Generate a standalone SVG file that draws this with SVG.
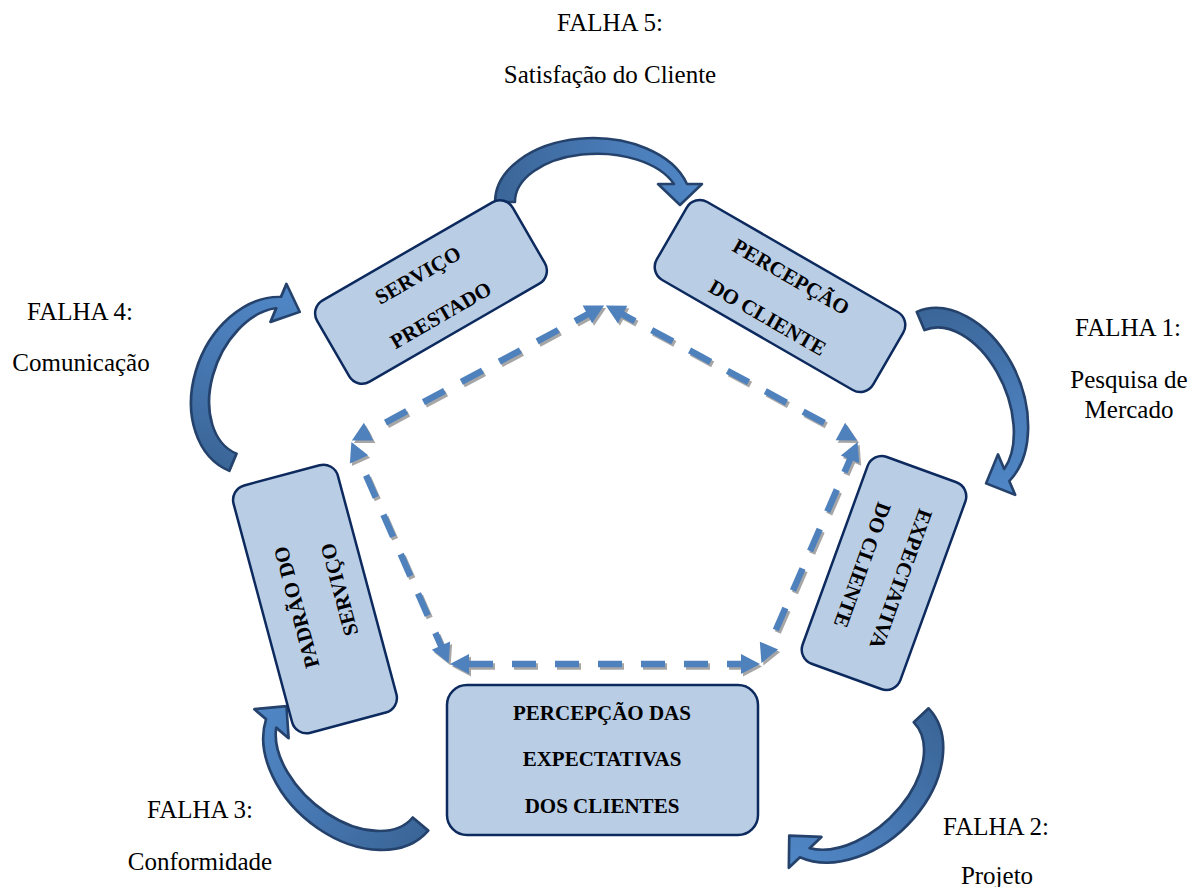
<svg xmlns="http://www.w3.org/2000/svg" width="1200" height="887" viewBox="0 0 1200 887">
<style>
.lbl{font-family:"Liberation Serif","Times New Roman",serif;font-size:25px;fill:#000;text-anchor:middle}
.bt{font-family:"Liberation Serif","Times New Roman",serif;font-size:21px;font-weight:bold;fill:#000;text-anchor:middle}
.box{fill:#b9cde5;stroke:#0d2a5e;stroke-width:2.5}
.carrow{fill:url(#ag);stroke:#24426b;stroke-width:2.5;stroke-linejoin:round}
.dash{fill:none;stroke:#4f81bd;stroke-width:6.5;stroke-dasharray:24 19;marker-start:url(#mh);marker-end:url(#mh)}
.dashs{fill:none;stroke:#a6a6a6;stroke-width:6.5;stroke-dasharray:24 19;marker-start:url(#mhs);marker-end:url(#mhs)}
</style>
<defs>
<linearGradient id="ag" x1="0" y1="0" x2="1" y2="0">
<stop offset="0" stop-color="#3a6597"/>
<stop offset="0.6" stop-color="#4a7cb8"/>
<stop offset="1" stop-color="#5087c6"/>
</linearGradient>
<marker id="mh" markerUnits="userSpaceOnUse" markerWidth="30" markerHeight="30" refX="10" refY="0" viewBox="0 -15 30 30" orient="auto-start-reverse" overflow="visible">
<path d="M0,-10 L19,0 L0,10 Z" fill="#4f81bd"/>
</marker>
<marker id="mhs" markerUnits="userSpaceOnUse" markerWidth="30" markerHeight="30" refX="10" refY="0" viewBox="0 -15 30 30" orient="auto-start-reverse" overflow="visible">
<path d="M0,-10 L19,0 L0,10 Z" fill="#a6a6a6"/>
</marker>
<path id="carc" d="M -98,0 A 98,64 0 0 1 94,-18 L 109,-18 L 87,3 L 65,-18 L 81,-18 A 82.4,48 0 0 0 -78,0 Z"/>
</defs>

<g id="connectors">
<g id="pentagon-shadow" transform="translate(2,2.5)">
<path class="dashs" d="M596.2,309.7 L359.8,436.3"/>
<path class="dashs" d="M613.8,309.7 L849.2,436.3"/>
<path class="dashs" d="M854.0,450.2 L765.0,654.8"/>
<path class="dashs" d="M751,664 L459,664"/>
<path class="dashs" d="M445.0,654.8 L355.0,450.2"/>
</g>
<g id="pentagon">
<path class="dash" d="M596.2,309.7 L359.8,436.3"/>
<path class="dash" d="M613.8,309.7 L849.2,436.3"/>
<path class="dash" d="M854.0,450.2 L765.0,654.8"/>
<path class="dash" d="M751,664 L459,664"/>
<path class="dash" d="M445.0,654.8 L355.0,450.2"/>
</g>
<g id="curved-arrows">
<use href="#carc" class="carrow" transform="translate(593,202)"/>
<use href="#carc" class="carrow" transform="translate(955,402) rotate(67) scale(1,1.06)"/>
<use href="#carc" class="carrow" transform="translate(856,777) rotate(136.6) scale(1.02,1.1)"/>
<use href="#carc" class="carrow" transform="translate(352,766) rotate(220.3) scale(1.02,1.1)"/>
<use href="#carc" class="carrow" transform="translate(265,386) rotate(-67.2) scale(0.94,1.1)"/>
</g>
</g>

<g id="servico-prestado" transform="translate(431,292) rotate(-30)">
<rect class="box" x="-113" y="-47" width="226" height="94" rx="15"/>
<text class="bt" x="-3" y="-14">SERVIÇO</text>
<text class="bt" x="-3" y="32">PRESTADO</text>
</g>

<g id="percepcao-cliente" transform="translate(780,296) rotate(30)">
<rect class="box" x="-125" y="-45" width="250" height="90" rx="15"/>
<text class="bt" x="0" y="-15">PERCEPÇÃO</text>
<text class="bt" x="0" y="32">DO CLIENTE</text>
</g>

<g id="expectativa-cliente" transform="translate(884,573) rotate(110)">
<rect class="box" x="-110" y="-52" width="220" height="104" rx="15"/>
<text class="bt" x="0" y="-11">EXPECTATIVA</text>
<text class="bt" x="0" y="30">DO CLIENTE</text>
</g>

<g id="padrao-servico" transform="translate(315,599) rotate(-105)">
<rect class="box" x="-128" y="-54" width="256" height="108" rx="15"/>
<text class="bt" x="-3" y="-13">PADRÃO DO</text>
<text class="bt" x="3" y="33">SERVIÇO</text>
</g>

<g id="percepcao-expectativas">
<rect class="box" x="447" y="685" width="311" height="150" rx="20"/>
<text class="bt" x="602" y="720">PERCEPÇÃO DAS</text>
<text class="bt" x="602" y="766">EXPECTATIVAS</text>
<text class="bt" x="602" y="813">DOS CLIENTES</text>
</g>

<g id="falha5">
<text class="lbl" x="610" y="31">FALHA 5:</text>
<text class="lbl" x="610" y="83">Satisfação do Cliente</text>
</g>
<g id="falha4">
<text class="lbl" x="80" y="320">FALHA 4:</text>
<text class="lbl" x="81" y="371">Comunicação</text>
</g>
<g id="falha1">
<text class="lbl" x="1128" y="336">FALHA 1:</text>
<text class="lbl" x="1129" y="388">Pesquisa de</text>
<text class="lbl" x="1129" y="418">Mercado</text>
</g>
<g id="falha2">
<text class="lbl" x="996" y="835">FALHA 2:</text>
<text class="lbl" x="997" y="884">Projeto</text>
</g>
<g id="falha3">
<text class="lbl" x="200" y="818">FALHA 3:</text>
<text class="lbl" x="200" y="870">Conformidade</text>
</g>
</svg>
